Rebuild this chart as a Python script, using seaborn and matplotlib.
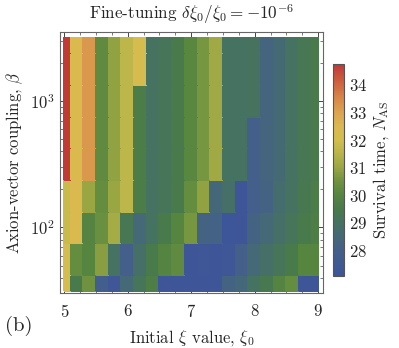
import numpy as np
import matplotlib
matplotlib.use("Agg")
import matplotlib.pyplot as plt
from matplotlib.colors import LinearSegmentedColormap, Normalize
from matplotlib.ticker import MultipleLocator, LogLocator, NullFormatter
import seaborn as sns

# initial xi values (cell centres) and log10 of coupling beta (cell centres)
xi0 = [5.0, 5.2, 5.4, 5.6, 5.8, 6.0, 6.2, 6.4, 6.6, 6.8, 7.0,
       7.2, 7.4, 7.6, 7.8, 8.0, 8.2, 8.4, 8.6, 8.8, 9.0]
log_beta = [1.5, 1.75, 2.0, 2.25, 2.5, 2.75, 3.0, 3.25, 3.5]

# survival time N_AS, one list per beta row (bottom to top)
n_b150 = [32.2, 29.5, 30.5, 27.8, 27.3, 28.5, 29.2, 29.7, 27.2, 27.2, 27.2,
          27.2, 27.2, 28.2, 28.4, 29.0, 29.4, 29.9, 30.3, 27.2, 27.2]
n_b175 = [32.2, 30.3, 30.0, 30.8, 29.0, 28.0, 28.9, 29.5, 29.9, 30.2, 27.2,
          27.3, 27.2, 27.3, 28.0, 28.5, 28.9, 29.2, 29.5, 30.0, 30.0]
n_b200 = [31.8, 32.4, 29.9, 30.4, 31.2, 29.3, 28.5, 29.0, 29.5, 30.0, 30.6,
          28.2, 28.1, 27.1, 27.2, 28.2, 28.5, 28.9, 29.2, 29.5, 29.7]
n_b225 = [31.8, 32.4, 31.0, 30.3, 31.0, 31.6, 29.6, 29.0, 29.2, 29.5, 30.3,
          30.9, 28.4, 28.9, 27.2, 28.0, 28.2, 28.7, 29.0, 29.4, 29.6]
n_b250 = [34.7, 32.4, 33.2, 30.2, 30.9, 31.6, 29.6, 29.0, 29.2, 29.5, 30.1,
          30.6, 31.1, 29.0, 29.0, 28.0, 28.3, 28.6, 29.0, 29.3, 29.5]
n_b275 = [34.7, 32.4, 33.2, 30.2, 30.9, 31.6, 29.6, 29.0, 29.2, 29.5, 30.1,
          30.6, 31.1, 29.0, 29.0, 28.0, 28.3, 28.6, 29.0, 29.3, 29.5]
n_b300 = [34.7, 32.4, 33.2, 30.2, 30.9, 31.6, 29.6, 29.0, 29.2, 29.5, 30.1,
          30.6, 31.1, 29.0, 29.0, 29.1, 28.3, 28.6, 29.0, 29.3, 29.5]
n_b325 = [34.7, 32.4, 33.2, 30.2, 30.9, 31.6, 32.2, 29.0, 29.2, 29.5, 30.1,
          30.6, 31.1, 29.0, 29.0, 29.1, 28.3, 28.6, 29.0, 29.3, 29.5]
n_b350 = [34.7, 32.4, 33.2, 30.2, 30.9, 31.6, 32.2, 29.0, 29.2, 29.5, 30.1,
          30.6, 31.1, 29.0, 29.0, 29.1, 28.3, 28.6, 29.0, 29.3, 29.5]

nmin, nmax = 27.07, 34.76

sns.set_theme(style="ticks")
plt.rcParams["font.family"] = ["cmr10", "DejaVu Serif"]
plt.rcParams["mathtext.fontset"] = "cm"
plt.rcParams["axes.formatter.use_mathtext"] = True

Z = np.array([n_b150, n_b175, n_b200, n_b225, n_b250,
              n_b275, n_b300, n_b325, n_b350])

# cell edges: midpoints between centres, clipped at the first/last centre
x = np.array(xi0)
xe = np.concatenate([[x[0]], (x[:-1] + x[1:]) / 2, [x[-1]]])
lb = np.array(log_beta)
ye = 10 ** np.concatenate([[lb[0]], (lb[:-1] + lb[1:]) / 2, [lb[-1]]])

anchors = [(27.07, "#3d5599"), (28.0, "#44608a"), (29.0, "#467262"),
           (29.5, "#497a4a"), (30.0, "#568540"), (30.5, "#6e9240"),
           (31.0, "#9aa642"), (31.5, "#b8b44a"), (32.0, "#d2be4c"),
           (32.5, "#dcb850"), (33.0, "#dca450"), (33.5, "#d88848"),
           (34.0, "#d06840"), (34.76, "#c03838")]
cmap = LinearSegmentedColormap.from_list(
    "darkrainbow", [((v - nmin) / (nmax - nmin), c) for v, c in anchors])
norm = Normalize(nmin, nmax)

fig = plt.figure(figsize=(3.99, 3.48), dpi=100)
ax = fig.add_axes([0.150, 0.158, 0.660, 0.751])
cax = fig.add_axes([0.835, 0.207, 0.028, 0.609])

mesh = ax.pcolormesh(xe, ye, Z, cmap=cmap, norm=norm, shading="flat",
                     edgecolors="face", linewidth=0.3)
ax.set_yscale("log")
ax.set_xlim(4.93, 9.08)
ax.set_ylim(10 ** 1.482, 10 ** 3.547)

ax.xaxis.set_major_locator(MultipleLocator(1))
ax.xaxis.set_minor_locator(MultipleLocator(0.25))
ax.yaxis.set_major_locator(LogLocator(base=10))
ax.yaxis.set_minor_locator(LogLocator(base=10, subs=np.arange(2, 10)))
ax.yaxis.set_minor_formatter(NullFormatter())
ax.tick_params(which="both", direction="in", top=True, right=True,
               color="#444444", labelsize=12)
ax.tick_params(axis="x", pad=7)
ax.tick_params(axis="y", pad=4)
ax.tick_params(which="major", length=4, width=0.7)
ax.tick_params(which="minor", length=2, width=0.5)
for s in ax.spines.values():
    s.set_color("#666666")
    s.set_linewidth(0.8)

ax.set_xlabel(r"Initial $\xi$ value, $\xi_0$", fontsize=12, labelpad=6)
ax.set_ylabel(r"Axion-vector coupling, $\beta$", fontsize=12, labelpad=3)
ax.set_title(r"Fine-tuning $\delta\xi_0/\xi_0 = -10^{-6}$", fontsize=12.3, pad=9)

cb = fig.colorbar(mesh, cax=cax)
cb.set_ticks([28, 29, 30, 31, 32, 33, 34])
cb.ax.yaxis.set_minor_locator(MultipleLocator(0.2))
cb.ax.tick_params(which="both", direction="in", color="#333333",
                  labelsize=12, pad=3)
cb.ax.tick_params(which="major", length=3, width=0.6)
cb.ax.tick_params(which="minor", length=1.5, width=0.4)
cb.outline.set_edgecolor("#555555")
cb.outline.set_linewidth(0.8)
cb.set_label(r"Survival time, $N_{\rm AS}$", fontsize=12, labelpad=3)

fig.text(0.012, 0.048, "(b)", fontsize=15)

fig.savefig("out.png", dpi=100)
